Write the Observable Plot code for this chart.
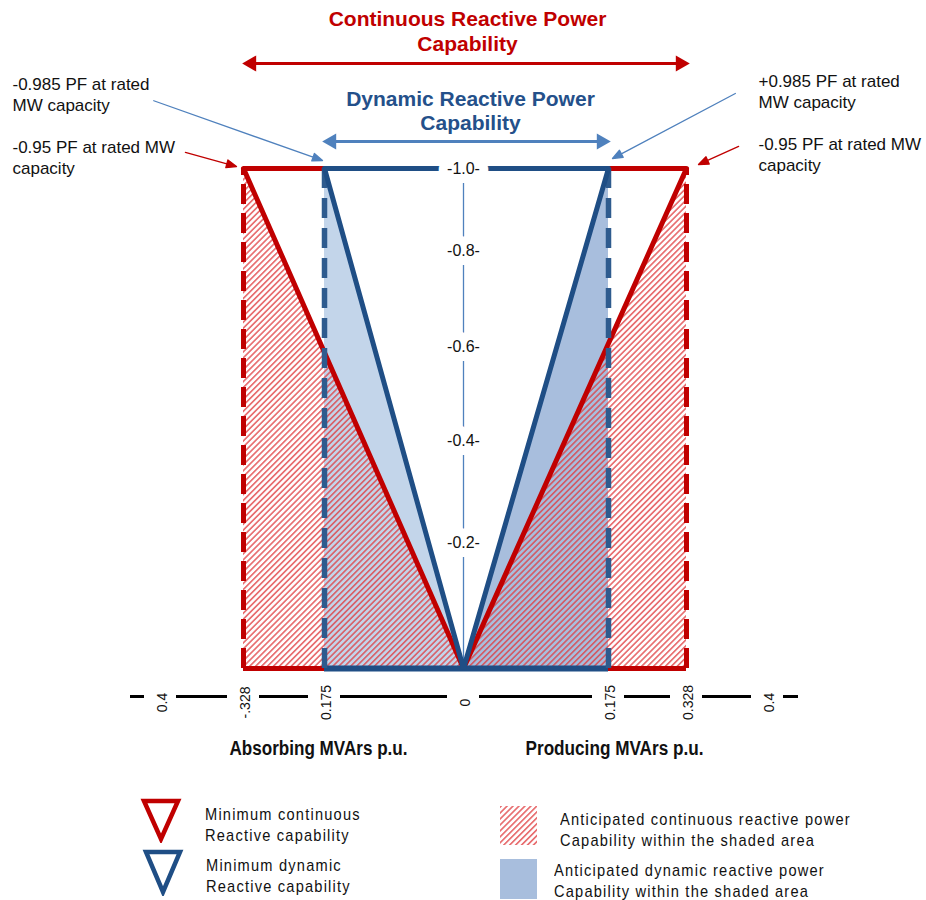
<!DOCTYPE html>
<html>
<head>
<meta charset="utf-8">
<script src="https://cdn.jsdelivr.net/npm/d3@7"></script>
<script src="https://cdn.jsdelivr.net/npm/@observablehq/plot@0.6"></script>
<style>
  html, body { margin: 0; padding: 0; background: #fff; }
  #wrap { position: relative; width: 926px; height: 900px; overflow: hidden; font-family: "Liberation Sans", Arial, sans-serif; }
  #chart { position: absolute; left: 0; top: 0; }
  .leg { position: absolute; font-family: "Liberation Sans", Arial, sans-serif; font-size: 17px; letter-spacing: 1.4px; line-height: 21px; color: #111; white-space: pre; transform: scaleX(0.86); transform-origin: 0 0; }
  .sw { position: absolute; }
</style>
</head>
<body>
<svg width="0" height="0" style="position:absolute">
  <defs>
    <pattern id="hatch" patternUnits="userSpaceOnUse" width="4.2" height="4.2" patternTransform="rotate(45)">
      <rect x="0" y="0" width="1.7" height="4.2" fill="#e0393c" fill-opacity="0.72"></rect>
    </pattern>
  </defs>
</svg>
<div id="wrap">
  <div id="chart"></div>
</div>
<script>
// ---- data ----
const xTickValues = [-0.4, -0.328, -0.175, 0, 0.175, 0.328, 0.4];
const xTickLabels = ["0.4", "-.328", "0.175", "0", "0.175", "0.328", "0.4"];
const yTickValues = [0.2, 0.4, 0.6, 0.8, 1.0];
const yTickLabels = ["-0.2-", "-0.4-", "-0.6-", "-0.8-", "-1.0-"];
const continuousQ = 0.328;   // +/-0.95 PF at rated MW
const dynamicQ = 0.175;      // +/-0.985 PF at rated MW
const ratedMW = 1.0;
const sides = [-1, 1];
const titles = ["Continuous Reactive Power\nCapability", "Dynamic Reactive Power\nCapability"];
const axisTitles = ["Absorbing MVArs p.u.", "Producing MVArs p.u."];
const pfLabels = ["-0.985 PF at rated\nMW capacity", "-0.95 PF at rated MW\ncapacity",
                  "+0.985 PF at rated\nMW capacity", "-0.95 PF at rated MW\ncapacity"];
const legendLabels = ["Minimum continuous\nReactive capability", "Minimum dynamic\nReactive capability",
                      "Anticipated continuous reactive power\nCapability within the shaded area",
                      "Anticipated dynamic reactive power\nCapability within the shaded area"];

// ---- layout (pixel ranges of the schematic axes) ----
const xRange = [160, 243, 324, 463, 608, 686, 767];
const yRange = [668, 542, 440, 346, 250, 168];

const RED = "#c00000", BLUE = "#1f4e85", BLUE_DASH = "#2e5b8e", LIGHT = "#4f81bd";
const FILL_L = "#c3d5ea", FILL_R = "#a8bedd";

// shapes derived from the capability values
const triangle = (q) => [{y: 0, x1: q, x2: 0}, {y: ratedMW, x1: q, x2: q}];
const vLine = (q) => [{x: -q, y: ratedMW}, {x: 0, y: 0}, {x: q, y: ratedMW}];
const outerSegs = sides.map(s => ({x1: s * continuousQ, x2: s * dynamicQ}));

const arrowShape = {
  draw(context, l) {
    const h = 10, w = 4;
    context.moveTo(0, 0);
    context.lineTo(0, -l + h);
    context.moveTo(0, -l);
    context.lineTo(-w, -l + h);
    context.lineTo(w, -l + h);
    context.closePath();
  }
};
// pointer arrows: target corner in data; tip offset / length / angle are layout
const pointers = [
  {x: -dynamicQ, dx: -2, dy: -8, length: 179, rotate: 109.5, color: LIGHT},
  {x: -continuousQ, dx: -7, dy: -2, length: 53, rotate: 105.4, color: RED},
  {x: dynamicQ, dx: 4, dy: -10, length: 139, rotate: 242.1, color: LIGHT},
  {x: continuousQ, dx: 12, dy: -4, length: 44, rotate: 245.8, color: RED}
];

const FONT = "Liberation Sans, Arial, sans-serif";

const pfText = (label, dx, dy) => Plot.text([label], {frameAnchor: "top-left", dx, dy, text: d => d,
  textAnchor: "start", lineAnchor: "middle", fontSize: 17, lineHeight: 1.24, fill: "#111", fontFamily: FONT});

const marks = [
  // fills
  Plot.areaX(triangle(-dynamicQ), {y: "y", x1: "x1", x2: "x2", fill: FILL_L}),
  Plot.areaX(triangle(dynamicQ), {y: "y", x1: "x1", x2: "x2", fill: FILL_R}),
  Plot.areaX(triangle(-continuousQ), {y: "y", x1: "x1", x2: "x2", fill: "url(#hatch)"}),
  Plot.areaX(triangle(continuousQ), {y: "y", x1: "x1", x2: "x2", fill: "url(#hatch)"}),
  // thin vertical MW axis
  Plot.ruleX([0], {y1: 0, y2: ratedMW, stroke: LIGHT, strokeWidth: 1.3}),
  // top blue line
  Plot.ruleY([ratedMW], {x1: -dynamicQ, x2: dynamicQ, stroke: BLUE, strokeWidth: 5}),
  // y labels with white halo
  Plot.text(yTickValues, {x: 0, y: d => d, text: (d, i) => yTickLabels[i], fontSize: 16, fill: "#111",
    stroke: "white", strokeWidth: 18, fontFamily: FONT}),
  // red outer segments top/bottom
  Plot.ruleY(outerSegs, {x1: "x1", x2: "x2", y: ratedMW, stroke: RED, strokeWidth: 5}),
  Plot.ruleY(outerSegs, {x1: "x1", x2: "x2", y: 0, stroke: RED, strokeWidth: 5}),
  // red dashed verticals
  Plot.ruleX([-continuousQ, continuousQ], {y1: 0, y2: ratedMW, stroke: RED, strokeWidth: 5, strokeDasharray: "20,9"}),
  // red V
  Plot.line(vLine(continuousQ), {x: "x", y: "y", stroke: RED, strokeWidth: 5, strokeLinejoin: "miter"}),
  // blue bottom
  Plot.ruleY([0], {x1: -dynamicQ, x2: dynamicQ, stroke: BLUE, strokeWidth: 6}),
  // blue dashed verticals
  Plot.ruleX([-dynamicQ, dynamicQ], {y1: 0, y2: ratedMW, stroke: BLUE_DASH, strokeWidth: 5.5, strokeDasharray: "20,10"}),
  // blue V
  Plot.line(vLine(dynamicQ), {x: "x", y: "y", stroke: BLUE, strokeWidth: 5, strokeLinejoin: "miter"}),

  // capability span arrows
  Plot.ruleY([ratedMW], {x1: -continuousQ + 0.01, x2: continuousQ - 0.005, dy: -105, stroke: RED, strokeWidth: 3}),
  Plot.dot([-continuousQ], {x: d => d, y: ratedMW, dy: -105, dx: 8, symbol: "triangle", rotate: -90, r: 6, fill: RED, stroke: "none"}),
  Plot.dot([continuousQ], {x: d => d, y: ratedMW, dy: -105, dx: -6, symbol: "triangle", rotate: 90, r: 6, fill: RED, stroke: "none"}),
  Plot.ruleY([ratedMW], {x1: -dynamicQ + 0.01, x2: dynamicQ - 0.01, dy: -27, stroke: LIGHT, strokeWidth: 3}),
  Plot.dot([-dynamicQ], {x: d => d, y: ratedMW, dy: -27, dx: 7, symbol: "triangle", rotate: -90, r: 6, fill: LIGHT, stroke: "none"}),
  Plot.dot([dynamicQ], {x: d => d, y: ratedMW, dy: -27, dx: -7, symbol: "triangle", rotate: 90, r: 6, fill: LIGHT, stroke: "none"}),

  // titles
  Plot.text([titles[0]], {x: 0, y: ratedMW, dx: 4, dy: -138, text: d => d, fontSize: 21, fontWeight: "bold",
    fill: RED, lineHeight: 1.17, fontFamily: FONT}),
  Plot.text([titles[1]], {x: 0, y: ratedMW, dx: 7, dy: -58, text: d => d, fontSize: 21, fontWeight: "bold",
    fill: "#24508a", lineHeight: 1.15, fontFamily: FONT}),

  // PF labels
  pfText(pfLabels[0], 12, 93.5),
  pfText(pfLabels[1], 12, 156.5),
  pfText(pfLabels[2], 758, 90.5),
  pfText(pfLabels[3], 758, 153.5),

  // pointer arrows
  ...pointers.map(p => Plot.vector([p], {x: "x", y: ratedMW, length: p.length, rotate: p.rotate, anchor: "end",
    shape: arrowShape, stroke: p.color, fill: p.color, strokeWidth: 1.3, dx: p.dx, dy: p.dy})),

  // x axis line with gaps
  Plot.ruleY(d3.pairs(xTickValues), {x1: d => d[0], x2: d => d[1], y: 0, dy: 28, insetLeft: 16, insetRight: 16, stroke: "#000", strokeWidth: 3}),
  Plot.ruleY([xTickValues[0]], {x1: d => d, x2: d => d, y: 0, dy: 28, insetLeft: -30, insetRight: 16, stroke: "#000", strokeWidth: 3}),
  Plot.ruleY([xTickValues[xTickValues.length - 1]], {x1: d => d, x2: d => d, y: 0, dy: 28, insetLeft: 16, insetRight: -31, stroke: "#000", strokeWidth: 3}),
  Plot.text(xTickValues, {x: d => d, y: 0, dy: 34, dx: 2, text: (d, i) => xTickLabels[i], rotate: -90, fontSize: 14, fill: "#111", fontFamily: FONT}),

  // axis titles
  Plot.text([axisTitles[0]], {x: -dynamicQ, y: 0, dy: 80, dx: -6, text: d => d, fontSize: 20, fontWeight: "bold", fill: "#111", fontFamily: FONT}),
  Plot.text([axisTitles[1]], {x: dynamicQ, y: 0, dy: 80, dx: 6, text: d => d, fontSize: 20, fontWeight: "bold", fill: "#111", fontFamily: FONT})
];

const chart = Plot.plot({
  width: 926,
  height: 780,
  margin: 0,
  x: {type: "linear", domain: xTickValues, range: xRange, axis: null},
  y: {type: "linear", domain: [0, ...yTickValues], range: yRange, axis: null},
  style: {background: "white", overflow: "visible", fontFamily: FONT},
  marks
});
// condensed look for the axis titles (Arial Narrow in the original)
d3.select(chart).selectAll("text")
  .filter(function() { return axisTitles.includes(this.textContent); })
  .attr("textLength", 178).attr("lengthAdjust", "spacingAndGlyphs");
document.getElementById("chart").appendChild(chart);

// ---- legend ----
const wrap = document.getElementById("wrap");
function addSvg(left, top, w, h, inner) {
  const d = document.createElement("div");
  d.className = "sw";
  d.style.left = left + "px"; d.style.top = top + "px";
  d.innerHTML = `<svg width="${w}" height="${h}" viewBox="0 0 ${w} ${h}">${inner}</svg>`;
  wrap.appendChild(d);
}
function addText(left, top, txt) {
  const d = document.createElement("div");
  d.className = "leg";
  d.style.left = left + "px"; d.style.top = top + "px";
  d.textContent = txt;
  wrap.appendChild(d);
}
addSvg(140, 797, 42, 46, `<path d="M4,4 L38,4 L21,42 Z" fill="none" stroke="${RED}" stroke-width="4.5" stroke-linejoin="miter"/>`);
addSvg(142, 848, 42, 48, `<path d="M4,4 L38,4 L21,44 Z" fill="none" stroke="${BLUE}" stroke-width="4.5" stroke-linejoin="miter"/>`);
addSvg(500, 806, 37, 39, `<rect x="0" y="0" width="37" height="39" fill="url(#hatch)"/>`);
addSvg(500, 859, 37, 40, `<rect x="0" y="0" width="37" height="40" fill="${FILL_R}"/>`);
addText(205, 804, legendLabels[0]);
addText(206, 855, legendLabels[1]);
addText(560, 809, legendLabels[2]);
addText(554, 860, legendLabels[3]);
</script>
</body>
</html>
